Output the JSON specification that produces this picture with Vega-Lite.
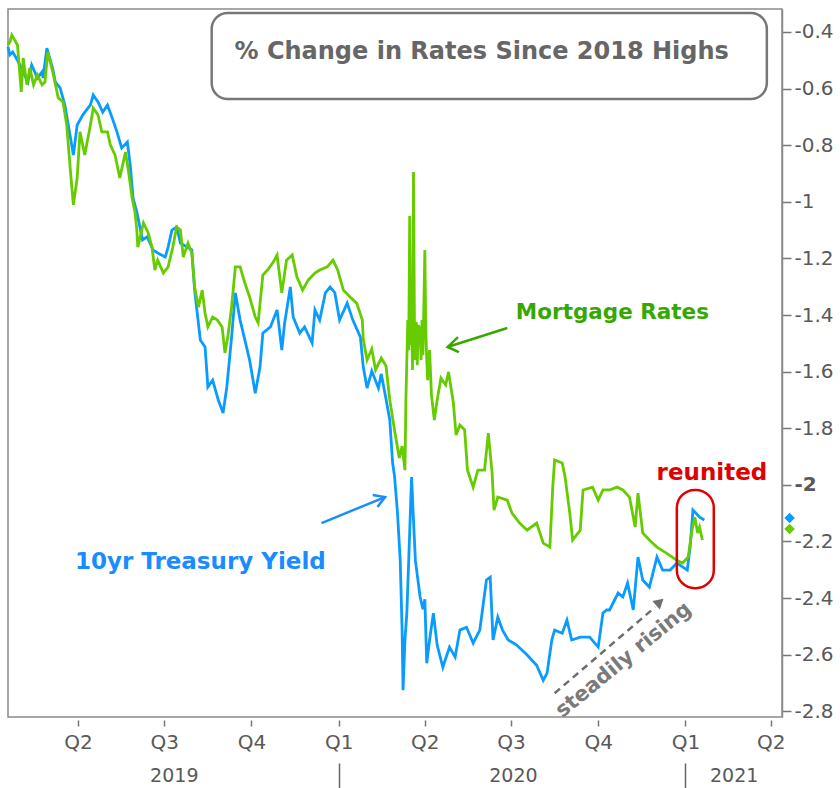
{
  "$schema": "https://vega.github.io/schema/vega-lite/v6.json",
  "width": 774,
  "height": 708,
  "autosize": {"type": "none"},
  "padding": {"left": 8, "top": 9, "right": 58, "bottom": 71},
  "background": "white",
  "config": {"view": {"stroke": "#8a8a8a", "strokeWidth": 1.5}, "font": "DejaVu Sans"},
  "datasets": {
    "lines": [
      {"s":"t","d":"2019-01-17","v":-0.453},{"s":"t","d":"2019-01-19","v":-0.481},{"s":"t","d":"2019-01-22","v":-0.471},{"s":"t","d":"2019-01-28","v":-0.506},{"s":"t","d":"2019-02-02","v":-0.541},{"s":"t","d":"2019-02-07","v":-0.577},{"s":"t","d":"2019-02-11","v":-0.517},{"s":"t","d":"2019-02-17","v":-0.563},{"s":"t","d":"2019-02-22","v":-0.541},{"s":"t","d":"2019-02-23","v":-0.563},{"s":"t","d":"2019-02-27","v":-0.457},{"s":"t","d":"2019-03-05","v":-0.527},{"s":"t","d":"2019-03-08","v":-0.577},{"s":"t","d":"2019-03-13","v":-0.598},{"s":"t","d":"2019-03-18","v":-0.658},{"s":"t","d":"2019-03-24","v":-0.775},{"s":"t","d":"2019-03-27","v":-0.835},{"s":"t","d":"2019-03-31","v":-0.729},{"s":"t","d":"2019-04-06","v":-0.693},{"s":"t","d":"2019-04-14","v":-0.658},{"s":"t","d":"2019-04-17","v":-0.623},{"s":"t","d":"2019-04-22","v":-0.647},{"s":"t","d":"2019-04-27","v":-0.683},{"s":"t","d":"2019-05-02","v":-0.658},{"s":"t","d":"2019-05-07","v":-0.704},{"s":"t","d":"2019-05-12","v":-0.753},{"s":"t","d":"2019-05-17","v":-0.81},{"s":"t","d":"2019-05-23","v":-0.789},{"s":"t","d":"2019-05-26","v":-0.87},{"s":"t","d":"2019-05-29","v":-0.987},{"s":"t","d":"2019-06-02","v":-1.036},{"s":"t","d":"2019-06-08","v":-1.135},{"s":"t","d":"2019-06-13","v":-1.124},{"s":"t","d":"2019-06-19","v":-1.17},{"s":"t","d":"2019-06-24","v":-1.181},{"s":"t","d":"2019-07-02","v":-1.195},{"s":"t","d":"2019-07-05","v":-1.16},{"s":"t","d":"2019-07-09","v":-1.1},{"s":"t","d":"2019-07-14","v":-1.089},{"s":"t","d":"2019-07-18","v":-1.146},{"s":"t","d":"2019-07-25","v":-1.16},{"s":"t","d":"2019-07-30","v":-1.17},{"s":"t","d":"2019-08-02","v":-1.312},{"s":"t","d":"2019-08-08","v":-1.488},{"s":"t","d":"2019-08-13","v":-1.513},{"s":"t","d":"2019-08-16","v":-1.654},{"s":"t","d":"2019-08-21","v":-1.63},{"s":"t","d":"2019-08-27","v":-1.7},{"s":"t","d":"2019-09-01","v":-1.746},{"s":"t","d":"2019-09-05","v":-1.654},{"s":"t","d":"2019-09-10","v":-1.478},{"s":"t","d":"2019-09-14","v":-1.322},{"s":"t","d":"2019-09-19","v":-1.418},{"s":"t","d":"2019-09-24","v":-1.488},{"s":"t","d":"2019-09-29","v":-1.559},{"s":"t","d":"2019-10-05","v":-1.676},{"s":"t","d":"2019-10-10","v":-1.584},{"s":"t","d":"2019-10-13","v":-1.464},{"s":"t","d":"2019-10-21","v":-1.442},{"s":"t","d":"2019-10-28","v":-1.382},{"s":"t","d":"2019-11-02","v":-1.524},{"s":"t","d":"2019-11-05","v":-1.428},{"s":"t","d":"2019-11-11","v":-1.301},{"s":"t","d":"2019-11-14","v":-1.407},{"s":"t","d":"2019-11-21","v":-1.464},{"s":"t","d":"2019-11-26","v":-1.442},{"s":"t","d":"2019-12-04","v":-1.499},{"s":"t","d":"2019-12-07","v":-1.382},{"s":"t","d":"2019-12-12","v":-1.418},{"s":"t","d":"2019-12-18","v":-1.322},{"s":"t","d":"2019-12-23","v":-1.301},{"s":"t","d":"2019-12-28","v":-1.322},{"s":"t","d":"2020-01-02","v":-1.418},{"s":"t","d":"2020-01-10","v":-1.358},{"s":"t","d":"2020-01-16","v":-1.418},{"s":"t","d":"2020-01-24","v":-1.478},{"s":"t","d":"2020-01-27","v":-1.584},{"s":"t","d":"2020-01-31","v":-1.658},{"s":"t","d":"2020-02-05","v":-1.598},{"s":"t","d":"2020-02-12","v":-1.658},{"s":"t","d":"2020-02-15","v":-1.608},{"s":"t","d":"2020-02-20","v":-1.697},{"s":"t","d":"2020-02-24","v":-1.771},{"s":"t","d":"2020-02-27","v":-1.923},{"s":"t","d":"2020-02-29","v":-1.969},{"s":"t","d":"2020-03-03","v":-2.093},{"s":"t","d":"2020-03-06","v":-2.266},{"s":"t","d":"2020-03-08","v":-2.513},{"s":"t","d":"2020-03-09","v":-2.725},{"s":"t","d":"2020-03-11","v":-2.548},{"s":"t","d":"2020-03-13","v":-2.453},{"s":"t","d":"2020-03-15","v":-2.266},{"s":"t","d":"2020-03-18","v":-1.972},{"s":"t","d":"2020-03-20","v":-2.124},{"s":"t","d":"2020-03-22","v":-2.266},{"s":"t","d":"2020-03-27","v":-2.396},{"s":"t","d":"2020-03-30","v":-2.439},{"s":"t","d":"2020-04-01","v":-2.404},{"s":"t","d":"2020-04-03","v":-2.63},{"s":"t","d":"2020-04-06","v":-2.548},{"s":"t","d":"2020-04-10","v":-2.453},{"s":"t","d":"2020-04-14","v":-2.566},{"s":"t","d":"2020-04-20","v":-2.644},{"s":"t","d":"2020-04-27","v":-2.573},{"s":"t","d":"2020-05-03","v":-2.608},{"s":"t","d":"2020-05-08","v":-2.513},{"s":"t","d":"2020-05-15","v":-2.503},{"s":"t","d":"2020-05-22","v":-2.559},{"s":"t","d":"2020-05-29","v":-2.513},{"s":"t","d":"2020-06-05","v":-2.336},{"s":"t","d":"2020-06-09","v":-2.326},{"s":"t","d":"2020-06-12","v":-2.548},{"s":"t","d":"2020-06-17","v":-2.467},{"s":"t","d":"2020-06-22","v":-2.513},{"s":"t","d":"2020-06-28","v":-2.548},{"s":"t","d":"2020-07-07","v":-2.566},{"s":"t","d":"2020-07-18","v":-2.601},{"s":"t","d":"2020-07-28","v":-2.637},{"s":"t","d":"2020-08-04","v":-2.69},{"s":"t","d":"2020-08-08","v":-2.665},{"s":"t","d":"2020-08-13","v":-2.548},{"s":"t","d":"2020-08-16","v":-2.513},{"s":"t","d":"2020-08-24","v":-2.524},{"s":"t","d":"2020-08-29","v":-2.478},{"s":"t","d":"2020-09-03","v":-2.548},{"s":"t","d":"2020-09-12","v":-2.538},{"s":"t","d":"2020-09-22","v":-2.538},{"s":"t","d":"2020-10-01","v":-2.573},{"s":"t","d":"2020-10-06","v":-2.453},{"s":"t","d":"2020-10-10","v":-2.442},{"s":"t","d":"2020-10-13","v":-2.442},{"s":"t","d":"2020-10-22","v":-2.382},{"s":"t","d":"2020-10-27","v":-2.396},{"s":"t","d":"2020-11-01","v":-2.347},{"s":"t","d":"2020-11-07","v":-2.442},{"s":"t","d":"2020-11-12","v":-2.255},{"s":"t","d":"2020-11-17","v":-2.336},{"s":"t","d":"2020-11-24","v":-2.361},{"s":"t","d":"2020-12-02","v":-2.255},{"s":"t","d":"2020-12-08","v":-2.301},{"s":"t","d":"2020-12-16","v":-2.301},{"s":"t","d":"2020-12-23","v":-2.276},{"s":"t","d":"2020-12-29","v":-2.29},{"s":"t","d":"2021-01-03","v":-2.301},{"s":"t","d":"2021-01-06","v":-2.22},{"s":"t","d":"2021-01-09","v":-2.089},{"s":"t","d":"2021-01-11","v":-2.096},{"s":"t","d":"2021-01-16","v":-2.114},{"s":"t","d":"2021-01-21","v":-2.124},
      {"s":"m","d":"2019-01-17","v":-0.446},{"s":"m","d":"2019-01-19","v":-0.435},{"s":"m","d":"2019-01-21","v":-0.411},{"s":"m","d":"2019-01-27","v":-0.446},{"s":"m","d":"2019-01-31","v":-0.612},{"s":"m","d":"2019-02-02","v":-0.492},{"s":"m","d":"2019-02-06","v":-0.587},{"s":"m","d":"2019-02-09","v":-0.527},{"s":"m","d":"2019-02-13","v":-0.587},{"s":"m","d":"2019-02-17","v":-0.552},{"s":"m","d":"2019-02-22","v":-0.587},{"s":"m","d":"2019-02-25","v":-0.577},{"s":"m","d":"2019-02-28","v":-0.471},{"s":"m","d":"2019-03-06","v":-0.552},{"s":"m","d":"2019-03-11","v":-0.633},{"s":"m","d":"2019-03-16","v":-0.647},{"s":"m","d":"2019-03-20","v":-0.729},{"s":"m","d":"2019-03-24","v":-0.895},{"s":"m","d":"2019-03-27","v":-1.011},{"s":"m","d":"2019-03-31","v":-0.916},{"s":"m","d":"2019-04-03","v":-0.753},{"s":"m","d":"2019-04-08","v":-0.835},{"s":"m","d":"2019-04-14","v":-0.729},{"s":"m","d":"2019-04-17","v":-0.669},{"s":"m","d":"2019-04-22","v":-0.693},{"s":"m","d":"2019-04-26","v":-0.753},{"s":"m","d":"2019-05-02","v":-0.753},{"s":"m","d":"2019-05-05","v":-0.799},{"s":"m","d":"2019-05-10","v":-0.835},{"s":"m","d":"2019-05-15","v":-0.916},{"s":"m","d":"2019-05-21","v":-0.824},{"s":"m","d":"2019-05-24","v":-0.888},{"s":"m","d":"2019-05-28","v":-0.987},{"s":"m","d":"2019-05-31","v":-1.036},{"s":"m","d":"2019-06-02","v":-1.1},{"s":"m","d":"2019-06-03","v":-1.16},{"s":"m","d":"2019-06-09","v":-1.075},{"s":"m","d":"2019-06-14","v":-1.11},{"s":"m","d":"2019-06-18","v":-1.16},{"s":"m","d":"2019-06-21","v":-1.241},{"s":"m","d":"2019-06-24","v":-1.206},{"s":"m","d":"2019-06-30","v":-1.252},{"s":"m","d":"2019-07-05","v":-1.23},{"s":"m","d":"2019-07-10","v":-1.16},{"s":"m","d":"2019-07-14","v":-1.089},{"s":"m","d":"2019-07-18","v":-1.1},{"s":"m","d":"2019-07-21","v":-1.195},{"s":"m","d":"2019-07-26","v":-1.146},{"s":"m","d":"2019-07-30","v":-1.181},{"s":"m","d":"2019-08-02","v":-1.301},{"s":"m","d":"2019-08-06","v":-1.372},{"s":"m","d":"2019-08-10","v":-1.312},{"s":"m","d":"2019-08-13","v":-1.393},{"s":"m","d":"2019-08-16","v":-1.442},{"s":"m","d":"2019-08-21","v":-1.407},{"s":"m","d":"2019-08-26","v":-1.418},{"s":"m","d":"2019-08-31","v":-1.442},{"s":"m","d":"2019-09-03","v":-1.534},{"s":"m","d":"2019-09-06","v":-1.478},{"s":"m","d":"2019-09-10","v":-1.372},{"s":"m","d":"2019-09-14","v":-1.23},{"s":"m","d":"2019-09-19","v":-1.23},{"s":"m","d":"2019-09-24","v":-1.287},{"s":"m","d":"2019-09-29","v":-1.336},{"s":"m","d":"2019-10-05","v":-1.407},{"s":"m","d":"2019-10-08","v":-1.428},{"s":"m","d":"2019-10-13","v":-1.259},{"s":"m","d":"2019-10-18","v":-1.241},{"s":"m","d":"2019-10-24","v":-1.213},{"s":"m","d":"2019-10-28","v":-1.188},{"s":"m","d":"2019-11-02","v":-1.322},{"s":"m","d":"2019-11-07","v":-1.206},{"s":"m","d":"2019-11-13","v":-1.188},{"s":"m","d":"2019-11-18","v":-1.266},{"s":"m","d":"2019-11-24","v":-1.312},{"s":"m","d":"2019-11-30","v":-1.276},{"s":"m","d":"2019-12-07","v":-1.252},{"s":"m","d":"2019-12-12","v":-1.241},{"s":"m","d":"2019-12-20","v":-1.23},{"s":"m","d":"2019-12-26","v":-1.206},{"s":"m","d":"2019-12-31","v":-1.241},{"s":"m","d":"2020-01-06","v":-1.312},{"s":"m","d":"2020-01-13","v":-1.336},{"s":"m","d":"2020-01-20","v":-1.358},{"s":"m","d":"2020-01-26","v":-1.418},{"s":"m","d":"2020-01-27","v":-1.485},{"s":"m","d":"2020-01-31","v":-1.559},{"s":"m","d":"2020-02-05","v":-1.52},{"s":"m","d":"2020-02-09","v":-1.594},{"s":"m","d":"2020-02-15","v":-1.552},{"s":"m","d":"2020-02-20","v":-1.58},{"s":"m","d":"2020-02-24","v":-1.7},{"s":"m","d":"2020-02-29","v":-1.806},{"s":"m","d":"2020-03-05","v":-1.905},{"s":"m","d":"2020-03-08","v":-1.863},{"s":"m","d":"2020-03-11","v":-1.948},{"s":"m","d":"2020-03-12","v":-1.7},{"s":"m","d":"2020-03-13","v":-1.559},{"s":"m","d":"2020-03-14","v":-1.418},{"s":"m","d":"2020-03-15","v":-1.524},{"s":"m","d":"2020-03-16","v":-1.05},{"s":"m","d":"2020-03-17","v":-1.506},{"s":"m","d":"2020-03-18","v":-1.418},{"s":"m","d":"2020-03-19","v":-1.594},{"s":"m","d":"2020-03-20","v":-0.895},{"s":"m","d":"2020-03-21","v":-1.418},{"s":"m","d":"2020-03-22","v":-1.559},{"s":"m","d":"2020-03-23","v":-1.425},{"s":"m","d":"2020-03-24","v":-1.577},{"s":"m","d":"2020-03-25","v":-1.435},{"s":"m","d":"2020-03-27","v":-1.453},{"s":"m","d":"2020-03-28","v":-1.559},{"s":"m","d":"2020-03-29","v":-1.418},{"s":"m","d":"2020-03-30","v":-1.541},{"s":"m","d":"2020-04-01","v":-1.17},{"s":"m","d":"2020-04-02","v":-1.453},{"s":"m","d":"2020-04-03","v":-1.559},{"s":"m","d":"2020-04-04","v":-1.63},{"s":"m","d":"2020-04-06","v":-1.524},{"s":"m","d":"2020-04-08","v":-1.683},{"s":"m","d":"2020-04-11","v":-1.771},{"s":"m","d":"2020-04-14","v":-1.7},{"s":"m","d":"2020-04-18","v":-1.623},{"s":"m","d":"2020-04-23","v":-1.647},{"s":"m","d":"2020-04-26","v":-1.601},{"s":"m","d":"2020-05-01","v":-1.707},{"s":"m","d":"2020-05-04","v":-1.824},{"s":"m","d":"2020-05-08","v":-1.789},{"s":"m","d":"2020-05-13","v":-1.806},{"s":"m","d":"2020-05-16","v":-1.948},{"s":"m","d":"2020-05-22","v":-2.008},{"s":"m","d":"2020-05-27","v":-1.948},{"s":"m","d":"2020-06-03","v":-1.948},{"s":"m","d":"2020-06-07","v":-1.817},{"s":"m","d":"2020-06-11","v":-1.958},{"s":"m","d":"2020-06-13","v":-2.089},{"s":"m","d":"2020-06-17","v":-2.043},{"s":"m","d":"2020-06-27","v":-2.054},{"s":"m","d":"2020-07-02","v":-2.1},{"s":"m","d":"2020-07-10","v":-2.135},{"s":"m","d":"2020-07-18","v":-2.16},{"s":"m","d":"2020-07-28","v":-2.135},{"s":"m","d":"2020-08-04","v":-2.206},{"s":"m","d":"2020-08-11","v":-2.22},{"s":"m","d":"2020-08-14","v":-2.008},{"s":"m","d":"2020-08-16","v":-1.912},{"s":"m","d":"2020-08-24","v":-1.923},{"s":"m","d":"2020-08-27","v":-1.972},{"s":"m","d":"2020-09-01","v":-2.1},{"s":"m","d":"2020-09-04","v":-2.195},{"s":"m","d":"2020-09-12","v":-2.16},{"s":"m","d":"2020-09-15","v":-2.018},{"s":"m","d":"2020-09-25","v":-2.008},{"s":"m","d":"2020-10-01","v":-2.054},{"s":"m","d":"2020-10-06","v":-2.018},{"s":"m","d":"2020-10-13","v":-2.018},{"s":"m","d":"2020-10-21","v":-2.008},{"s":"m","d":"2020-10-27","v":-2.018},{"s":"m","d":"2020-11-03","v":-2.043},{"s":"m","d":"2020-11-09","v":-2.149},{"s":"m","d":"2020-11-12","v":-2.029},{"s":"m","d":"2020-11-17","v":-2.17},{"s":"m","d":"2020-11-24","v":-2.195},{"s":"m","d":"2020-12-02","v":-2.22},{"s":"m","d":"2020-12-12","v":-2.241},{"s":"m","d":"2020-12-23","v":-2.266},{"s":"m","d":"2020-12-29","v":-2.276},{"s":"m","d":"2021-01-04","v":-2.255},{"s":"m","d":"2021-01-08","v":-2.16},{"s":"m","d":"2021-01-11","v":-2.114},{"s":"m","d":"2021-01-14","v":-2.17},{"s":"m","d":"2021-01-16","v":-2.149},{"s":"m","d":"2021-01-19","v":-2.195}
    ],
    "arrows": [
      {"a":"m1","k":1,"d":"2020-06-27","v":-1.446},{"a":"m1","k":2,"d":"2020-04-25","v":-1.513},
      {"a":"m2","k":1,"d":"2020-05-06","v":-1.478},{"a":"m2","k":2,"d":"2020-04-25","v":-1.513},{"a":"m2","k":3,"d":"2020-05-07","v":-1.531},
      {"a":"t1","k":1,"d":"2019-12-14","v":-2.135},{"a":"t1","k":2,"d":"2020-02-19","v":-2.043},
      {"a":"t2","k":1,"d":"2020-02-06","v":-2.036},{"a":"t2","k":2,"d":"2020-02-19","v":-2.043},{"a":"t2","k":3,"d":"2020-02-11","v":-2.078}
    ]
  },
  "resolve": {"axis": {"x": "independent", "y": "independent"}, "scale": {"color": "independent", "size": "independent"}},
  "layer": [
    {
      "data": {"name": "lines"},
      "transform": [{"filter": "datum.s === 't'"}],
      "mark": {"type": "line", "color": "#0A9BFF", "strokeWidth": 2.8},
      "encoding": {
        "x": {"field": "d", "type": "temporal",
          "scale": {"type": "utc", "domain": [{"year": 2019, "month": 1, "date": 17, "utc": true}, {"year": 2021, "month": 4, "date": 13, "utc": true}]},
          "axis": {"orient": "bottom", "title": null, "domain": false, "grid": false,
            "values": [{"year": 2019, "month": 4, "date": 1, "utc": true}, {"year": 2019, "month": 7, "date": 1, "utc": true}, {"year": 2019, "month": 10, "date": 1, "utc": true}, {"year": 2020, "month": 1, "date": 1, "utc": true}, {"year": 2020, "month": 4, "date": 1, "utc": true}, {"year": 2020, "month": 7, "date": 1, "utc": true}, {"year": 2020, "month": 10, "date": 1, "utc": true}, {"year": 2021, "month": 1, "date": 1, "utc": true}, {"year": 2021, "month": 4, "date": 1, "utc": true}],
            "labelExpr": "'Q' + utcquarter(datum.value)",
            "offset": 3, "tickSize": 6, "tickColor": "#777", "tickWidth": 1.5,
            "labelPadding": 6, "labelFontSize": 20, "labelColor": "#595959", "labelFont": "DejaVu Sans", "labelFlush": false, "labelOverlap": false}},
        "y": {"field": "v", "type": "quantitative",
          "scale": {"domain": [-2.82, -0.319], "nice": false, "zero": false},
          "axis": {"orient": "right", "title": null, "grid": false,
            "values": [-0.4, -0.6, -0.8, -1, -1.2, -1.4, -1.6, -1.8, -2, -2.2, -2.4, -2.6, -2.8],
            "labelExpr": "'' + datum.value",
            "domain": true, "domainColor": "#8a8a8a", "domainWidth": 1.5,
            "tickSize": 9, "tickColor": "#777", "tickWidth": 1.5,
            "labelPadding": 3, "labelFontSize": 20, "labelColor": "#595959", "labelFont": "DejaVu Sans", "labelFlush": false, "labelOverlap": false,
            "labelFontWeight": {"condition": {"test": "datum.value === -2", "value": "bold"}, "value": "normal"}}}
      }
    },
    {
      "data": {"name": "lines"},
      "transform": [{"filter": "datum.s === 'm'"}],
      "mark": {"type": "line", "color": "#66CC00", "strokeWidth": 2.8},
      "encoding": {
        "x": {"field": "d", "type": "temporal", "scale": {"type": "utc", "domain": [{"year": 2019, "month": 1, "date": 17, "utc": true}, {"year": 2021, "month": 4, "date": 13, "utc": true}]}, "axis": null},
        "y": {"field": "v", "type": "quantitative", "scale": {"domain": [-2.82, -0.319], "nice": false, "zero": false}, "axis": null}
      }
    },
    {
      "data": {"values": [{"x1": "2019-08-20", "x2": "2021-03-28", "y1": -0.333, "y2": -0.637}]},
      "mark": {"type": "rect", "fill": "white", "stroke": "#777777", "strokeWidth": 2.5, "cornerRadius": 16},
      "encoding": {
        "x": {"field": "x1", "type": "temporal", "scale": {"type": "utc", "domain": [{"year": 2019, "month": 1, "date": 17, "utc": true}, {"year": 2021, "month": 4, "date": 13, "utc": true}]},
          "axis": {"orient": "bottom", "title": null, "domain": false, "grid": false, "ticks": false, "tickSize": 0,
            "values": [{"year": 2019, "month": 7, "date": 11, "utc": true}, {"year": 2020, "month": 7, "date": 3, "utc": true}, {"year": 2021, "month": 2, "date": 21, "utc": true}],
            "labelExpr": "'' + utcyear(datum.value)",
            "offset": 49, "labelPadding": 0, "labelFontSize": 19, "labelColor": "#595959", "labelFont": "DejaVu Sans", "labelFlush": false, "labelOverlap": false}},
        "x2": {"field": "x2"},
        "y": {"field": "y1", "type": "quantitative", "scale": {"domain": [-2.82, -0.319], "nice": false, "zero": false}, "axis": null},
        "y2": {"field": "y2"}
      }
    },
    {
      "data": {"values": [{"x1": "2020-12-23", "x2": "2021-01-31", "y1": -2.018, "y2": -2.365}]},
      "mark": {"type": "rect", "fill": null, "fillOpacity": 0, "stroke": "#E00000", "strokeWidth": 2.5, "cornerRadius": 18},
      "encoding": {
        "x": {"field": "x1", "type": "temporal", "scale": {"type": "utc", "domain": [{"year": 2019, "month": 1, "date": 17, "utc": true}, {"year": 2021, "month": 4, "date": 13, "utc": true}]},
          "axis": {"orient": "bottom", "title": null, "domain": false, "grid": false, "labels": false,
            "values": [{"year": 2020, "month": 1, "date": 1, "utc": true}, {"year": 2021, "month": 1, "date": 1, "utc": true}],
            "offset": 46, "tickSize": 26, "tickColor": "#666", "tickWidth": 1.5}},
        "x2": {"field": "x2"},
        "y": {"field": "y1", "type": "quantitative", "scale": {"domain": [-2.82, -0.319], "nice": false, "zero": false}, "axis": null},
        "y2": {"field": "y2"}
      }
    },
    {
      "data": {"name": "arrows"},
      "mark": {"type": "line", "strokeWidth": 2.5},
      "encoding": {
        "x": {"field": "d", "type": "temporal", "scale": {"type": "utc", "domain": [{"year": 2019, "month": 1, "date": 17, "utc": true}, {"year": 2021, "month": 4, "date": 13, "utc": true}]}, "axis": null},
        "y": {"field": "v", "type": "quantitative", "scale": {"domain": [-2.82, -0.319], "nice": false, "zero": false}, "axis": null},
        "detail": {"field": "a"},
        "order": {"field": "k"},
        "color": {"field": "a", "type": "nominal", "scale": {"domain": ["m1", "m2", "t1", "t2"], "range": ["#36A800", "#36A800", "#1A8CFF", "#1A8CFF"]}, "legend": null}
      }
    },
    {
      "data": {"values": [{"a": 1, "d": "2020-08-16", "v": -2.736}, {"a": 2, "d": "2020-11-30", "v": -2.432}]},
      "mark": {"type": "line", "color": "#6E6E6E", "strokeWidth": 2.5, "strokeDash": [7, 5]},
      "encoding": {
        "x": {"field": "d", "type": "temporal", "scale": {"type": "utc", "domain": [{"year": 2019, "month": 1, "date": 17, "utc": true}, {"year": 2021, "month": 4, "date": 13, "utc": true}]}, "axis": null},
        "y": {"field": "v", "type": "quantitative", "scale": {"domain": [-2.82, -0.319], "nice": false, "zero": false}, "axis": null},
        "order": {"field": "a"}
      }
    },
    {
      "data": {"values": [{"d": "2020-12-05", "v": -2.414}]},
      "mark": {"type": "point", "shape": "triangle-up", "filled": true, "color": "#6E6E6E", "opacity": 1, "size": 130, "angle": 49},
      "encoding": {
        "x": {"field": "d", "type": "temporal", "scale": {"type": "utc", "domain": [{"year": 2019, "month": 1, "date": 17, "utc": true}, {"year": 2021, "month": 4, "date": 13, "utc": true}]}, "axis": null},
        "y": {"field": "v", "type": "quantitative", "scale": {"domain": [-2.82, -0.319], "nice": false, "zero": false}, "axis": null}
      }
    },
    {
      "data": {"values": [{"s": "m", "d": "2021-04-21", "v": -2.156}, {"s": "t", "d": "2021-04-21", "v": -2.117}]},
      "mark": {"type": "point", "shape": "diamond", "filled": true, "opacity": 1, "size": 110, "clip": false},
      "encoding": {
        "x": {"field": "d", "type": "temporal", "scale": {"type": "utc", "domain": [{"year": 2019, "month": 1, "date": 17, "utc": true}, {"year": 2021, "month": 4, "date": 13, "utc": true}]}, "axis": null},
        "y": {"field": "v", "type": "quantitative", "scale": {"domain": [-2.82, -0.319], "nice": false, "zero": false}, "axis": null},
        "color": {"field": "s", "type": "nominal", "scale": {"domain": ["t", "m"], "range": ["#0A9BFF", "#66CC00"]}, "legend": null}
      }
    },
    {
      "data": {"values": [
        {"k": "title", "d": "2020-05-31", "v": -0.471, "t": "% Change in Rates Since 2018 Highs"}
      ]},
      "mark": {"type": "text", "font": "DejaVu Sans", "fontWeight": "bold", "fontSize": 24, "color": "#666666", "align": "center", "baseline": "middle"},
      "encoding": {
        "x": {"field": "d", "type": "temporal", "scale": {"type": "utc", "domain": [{"year": 2019, "month": 1, "date": 17, "utc": true}, {"year": 2021, "month": 4, "date": 13, "utc": true}]}, "axis": null},
        "y": {"field": "v", "type": "quantitative", "scale": {"domain": [-2.82, -0.319], "nice": false, "zero": false}, "axis": null},
        "text": {"field": "t"}
      }
    },
    {
      "data": {"values": [
        {"k": "m", "d": "2020-10-16", "v": -1.393, "t": "Mortgage Rates", "fs": 21.5},
        {"k": "t", "d": "2019-08-08", "v": -2.273, "t": "10yr Treasury Yield", "fs": 23},
        {"k": "r", "d": "2021-01-29", "v": -1.958, "t": "reunited", "fs": 23}
      ]},
      "mark": {"type": "text", "font": "DejaVu Sans", "fontWeight": "bold", "align": "center", "baseline": "middle"},
      "encoding": {
        "x": {"field": "d", "type": "temporal", "scale": {"type": "utc", "domain": [{"year": 2019, "month": 1, "date": 17, "utc": true}, {"year": 2021, "month": 4, "date": 13, "utc": true}]}, "axis": null},
        "y": {"field": "v", "type": "quantitative", "scale": {"domain": [-2.82, -0.319], "nice": false, "zero": false}, "axis": null},
        "text": {"field": "t"},
        "size": {"field": "fs", "type": "quantitative", "scale": null, "legend": null},
        "color": {"field": "k", "type": "nominal", "scale": {"domain": ["m", "t", "r"], "range": ["#36A800", "#1A8CFF", "#E00000"]}, "legend": null}
      }
    },
    {
      "data": {"values": [{"d": "2020-10-28", "v": -2.619, "t": "steadily rising"}]},
      "mark": {"type": "text", "font": "DejaVu Sans", "fontWeight": "bold", "fontSize": 21, "color": "#7A7A7A", "align": "center", "baseline": "middle", "angle": 320.5},
      "encoding": {
        "x": {"field": "d", "type": "temporal", "scale": {"type": "utc", "domain": [{"year": 2019, "month": 1, "date": 17, "utc": true}, {"year": 2021, "month": 4, "date": 13, "utc": true}]}, "axis": null},
        "y": {"field": "v", "type": "quantitative", "scale": {"domain": [-2.82, -0.319], "nice": false, "zero": false}, "axis": null},
        "text": {"field": "t"}
      }
    }
  ]
}
